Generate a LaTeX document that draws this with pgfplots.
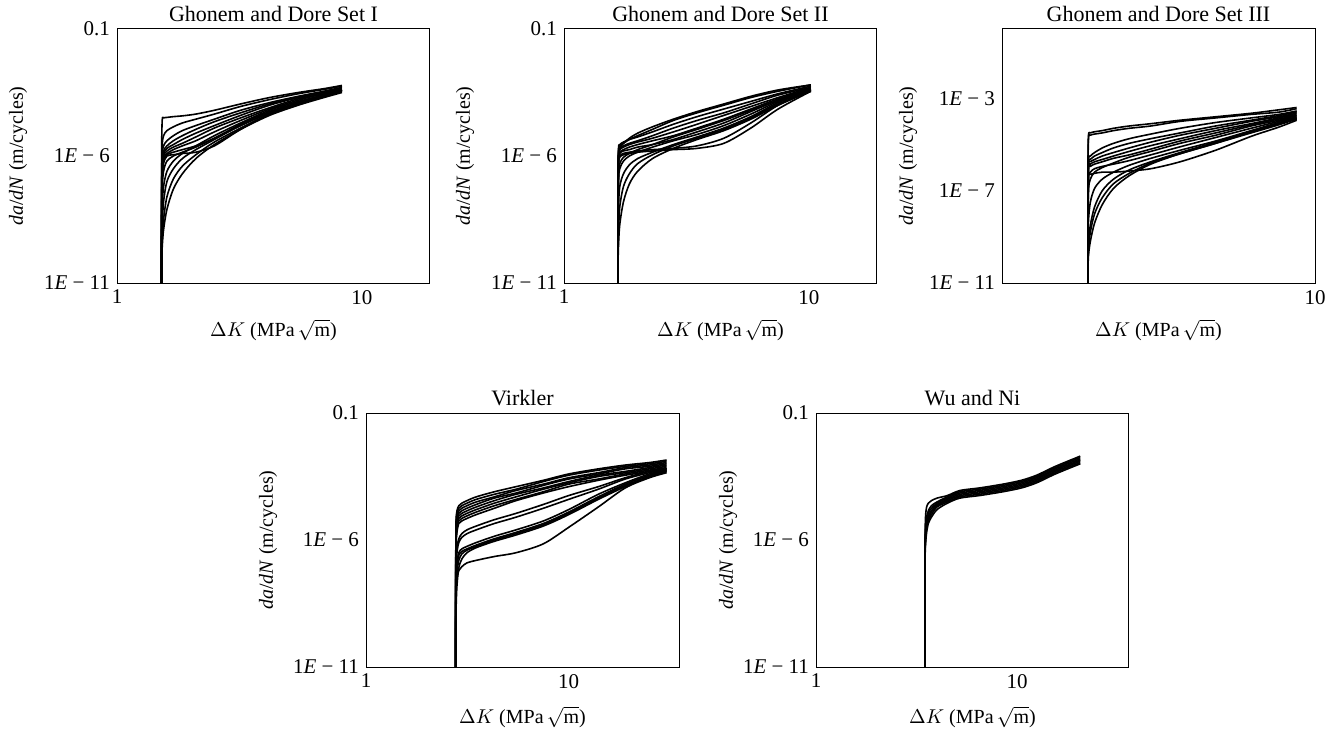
\documentclass[border=0pt]{standalone}
\usepackage{fontspec}
\setmainfont{Liberation Serif}
\usepackage{pgfplots}
\pgfplotsset{compat=1.18}
\pgfplotsset{
 panel/.style={
  scale only axis, width=156.5pt, height=127pt,
  ymin=1e-11, ymax=0.1, xmin=1,
  ytick={1e-11,1e-6,0.1},
  yticklabels={1\textit{E} − 11, 1\textit{E} − 6, 0.1},
  xtick={1,10}, xticklabels={1,10},
  major tick length=0pt, minor tick length=0pt,
  xminorticks=false, yminorticks=false,
  tick label style={font=\fontsize{10.5}{12}\selectfont},
  label style={font=\fontsize{11}{13}\selectfont},
  title style={font=\fontsize{11}{13}\selectfont, yshift=-6pt},
  every axis x label/.style={at={(axis description cs:0.5,0)}, yshift=-23.5pt, anchor=center},
  every axis y label/.style={at={(axis description cs:0,0.5)}, xshift=-49.5pt, rotate=90, anchor=center},
  xlabel={$\Delta K$ (MPa\,$\sqrt{\mathrm{m}}$)},
  ylabel={\textit{da}/\textit{dN} (m/cycles)},
  axis line style={line width=0.5pt},
 },
 cv/.style={black, line width=0.8pt, no marks, line join=round, smooth, tension=0.5},
}
\begin{document}
\begin{tikzpicture}
\path[use as bounding box] (0,0) rectangle (670.5pt,367.5pt);

% ---------------- Panel 1 ----------------
\begin{loglogaxis}[panel, at={(58.5pt,226pt)}, anchor=south west, xmax=19,
  title={Ghonem and Dore Set I}]
\addplot[cv] coordinates {(1.52,1e-11)(1.522,1e-6)(1.53,2.51e-5)(1.55,3.16e-5)(1.6,3.3e-5)(1.7,3.55e-5)(1.85,3.8e-5)(2.1,4.47e-5)(2.5,6.31e-5)(3.2,1.12e-4)(4.2,2e-4)(5.5,3.16e-4)(7,4.47e-4)(8.3,6e-4)};
\addplot[cv] coordinates {(1.52,1e-11)(1.522,1e-7)(1.53,2.51e-6)(1.55,6.31e-6)(1.6,1e-5)(1.7,1.41e-5)(1.85,2e-5)(2.1,2.82e-5)(2.5,4.47e-5)(3.2,8.91e-5)(4.2,1.66e-4)(5.5,2.82e-4)(7,4.17e-4)(8.3,5.62e-4)};
\addplot[cv] coordinates {(1.52,1e-11)(1.522,3.16e-8)(1.53,1e-6)(1.55,2.51e-6)(1.6,3.98e-6)(1.7,6.31e-6)(1.85,1e-5)(2.1,1.58e-5)(2.5,2.82e-5)(3.2,6.31e-5)(4.2,1.26e-4)(5.5,2.24e-4)(7,3.55e-4)(8.3,5.01e-4)};
\addplot[cv] coordinates {(1.52,1e-11)(1.522,3.16e-8)(1.53,6.31e-7)(1.55,1.58e-6)(1.6,2.51e-6)(1.7,3.98e-6)(1.85,6.31e-6)(2.1,1.12e-5)(2.5,2.24e-5)(3.2,5.01e-5)(4.2,1.12e-4)(5.5,2e-4)(7,3.16e-4)(8.3,5.01e-4)};
\addplot[cv] coordinates {(1.52,1e-11)(1.522,1e-8)(1.53,5.01e-7)(1.55,1.26e-6)(1.6,2e-6)(1.7,2.82e-6)(1.85,4.47e-6)(2.1,7.94e-6)(2.5,1.58e-5)(3.2,3.98e-5)(4.2,1e-4)(5.5,2e-4)(7,3.16e-4)(8.3,4.47e-4)};
\addplot[cv] coordinates {(1.52,1e-11)(1.522,1e-8)(1.53,3.16e-7)(1.55,1e-6)(1.6,1.58e-6)(1.7,2.24e-6)(1.85,3.16e-6)(2.1,5.62e-6)(2.5,1.26e-5)(3.2,3.16e-5)(4.2,7.94e-5)(5.5,1.78e-4)(7,2.82e-4)(8.3,4.47e-4)};
\addplot[cv] coordinates {(1.52,1e-11)(1.522,3.16e-9)(1.53,2.51e-7)(1.55,7.94e-7)(1.6,1.26e-6)(1.7,1.78e-6)(1.85,2.51e-6)(2.1,3.98e-6)(2.5,8.91e-6)(3.2,2.51e-5)(4.2,7.08e-5)(5.5,1.58e-4)(7,2.82e-4)(8.3,3.98e-4)};
\addplot[cv] coordinates {(1.52,1e-11)(1.522,3.16e-9)(1.53,1.58e-7)(1.55,6.31e-7)(1.6,1.12e-6)(1.7,1.41e-6)(1.85,1.78e-6)(2.1,2.51e-6)(2.5,5.01e-6)(3.2,1.78e-5)(4.2,5.62e-5)(5.5,1.26e-4)(7,2.51e-4)(8.3,3.98e-4)};
\addplot[cv] coordinates {(1.52,1e-11)(1.522,1.58e-9)(1.53,1e-7)(1.55,5.01e-7)(1.6,1e-6)(1.7,1.12e-6)(1.85,1.26e-6)(2.1,1.41e-6)(2.5,2.51e-6)(3.2,1.12e-5)(4.2,4.47e-5)(5.5,1.12e-4)(7,2.24e-4)(8.3,3.55e-4)};
\addplot[cv] coordinates {(1.52,1e-11)(1.522,1e-9)(1.53,5.01e-8)(1.55,2.51e-7)(1.6,6.31e-7)(1.7,1e-6)(1.85,1.41e-6)(2.1,2.24e-6)(2.5,5.01e-6)(3.2,1.58e-5)(4.2,5.01e-5)(5.5,1.26e-4)(7,2.51e-4)(8.3,3.55e-4)};
\addplot[cv] coordinates {(1.52,1e-11)(1.522,3.16e-10)(1.53,1e-8)(1.55,6.31e-8)(1.6,2.51e-7)(1.7,6.31e-7)(1.85,1.26e-6)(2.1,2.51e-6)(2.5,6.31e-6)(3.2,2e-5)(4.2,6.31e-5)(5.5,1.41e-4)(7,2.51e-4)(8.3,3.98e-4)};
\addplot[cv] coordinates {(1.52,1e-11)(1.522,1e-10)(1.53,1.58e-9)(1.55,1.58e-8)(1.6,1e-7)(1.7,3.16e-7)(1.85,7.94e-7)(2.1,1.78e-6)(2.5,4.47e-6)(3.2,1.58e-5)(4.2,5.01e-5)(5.5,1.26e-4)(7,2.24e-4)(8.3,3.98e-4)};
\addplot[cv] coordinates {(1.52,1e-11)(1.522,6.31e-11)(1.53,5.01e-10)(1.55,3.16e-9)(1.6,2.51e-8)(1.7,1.26e-7)(1.85,3.98e-7)(2.1,1.12e-6)(2.5,3.55e-6)(3.2,1.26e-5)(4.2,4.47e-5)(5.5,1.12e-4)(7,2.24e-4)(8.3,3.55e-4)};
\addplot[cv] coordinates {(1.52,1e-11)(1.522,3.98e-11)(1.53,2.51e-10)(1.55,1.26e-9)(1.6,7.94e-9)(1.7,5.01e-8)(1.85,2e-7)(2.1,7.94e-7)(2.5,2.82e-6)(3.2,1.12e-5)(4.2,3.98e-5)(5.5,1e-4)(7,2e-4)(8.3,3.16e-4)};
\end{loglogaxis}

% ---------------- Panel 2 ----------------
\begin{loglogaxis}[panel, at={(282pt,226pt)}, anchor=south west, xmax=19,
  title={Ghonem and Dore Set II}]
\addplot[cv] coordinates {(1.66,1e-11)(1.662,1e-7)(1.67,1.58e-6)(1.69,2.51e-6)(1.75,3.16e-6)(1.85,4.47e-6)(2,6.31e-6)(2.3,1.12e-5)(2.8,2.51e-5)(3.5,5.01e-5)(4.5,1e-4)(5.8,2e-4)(7.5,3.55e-4)(10.2,6.31e-4)};
\addplot[cv] coordinates {(1.66,1e-11)(1.662,1e-7)(1.67,2e-6)(1.69,2.82e-6)(1.75,3.55e-6)(1.85,4.47e-6)(2,5.62e-6)(2.3,8.91e-6)(2.8,1.78e-5)(3.5,3.55e-5)(4.5,7.08e-5)(5.8,1.41e-4)(7.5,2.82e-4)(10.2,5.62e-4)};
\addplot[cv] coordinates {(1.66,1e-11)(1.662,3.16e-8)(1.67,1.26e-6)(1.69,2e-6)(1.75,2.51e-6)(1.85,3.16e-6)(2,3.98e-6)(2.3,6.31e-6)(2.8,1.26e-5)(3.5,2.51e-5)(4.5,5.01e-5)(5.8,1.12e-4)(7.5,2.51e-4)(10.2,5.01e-4)};
\addplot[cv] coordinates {(1.66,1e-11)(1.662,3.16e-8)(1.67,1e-6)(1.69,1.78e-6)(1.75,2.24e-6)(1.85,2.82e-6)(2,3.55e-6)(2.3,5.01e-6)(2.8,8.91e-6)(3.5,1.78e-5)(4.5,3.98e-5)(5.8,8.91e-5)(7.5,2e-4)(10.2,5.01e-4)};
\addplot[cv] coordinates {(1.66,1e-11)(1.662,1e-8)(1.67,7.94e-7)(1.69,1.41e-6)(1.75,1.78e-6)(1.85,2.24e-6)(2,2.82e-6)(2.3,3.98e-6)(2.8,6.31e-6)(3.5,1.26e-5)(4.5,2.82e-5)(5.8,7.08e-5)(7.5,1.78e-4)(10.2,4.47e-4)};
\addplot[cv] coordinates {(1.66,1e-11)(1.662,1e-8)(1.67,6.31e-7)(1.69,1.26e-6)(1.75,1.58e-6)(1.85,1.78e-6)(2,2.24e-6)(2.3,2.82e-6)(2.8,4.47e-6)(3.5,8.91e-6)(4.5,2e-5)(5.8,5.62e-5)(7.5,1.58e-4)(10.2,4.47e-4)};
\addplot[cv] coordinates {(1.66,1e-11)(1.662,3.16e-9)(1.67,5.01e-7)(1.69,1e-6)(1.75,1.26e-6)(1.85,1.41e-6)(2,1.58e-6)(2.3,1.78e-6)(2.8,2e-6)(3.5,2.51e-6)(4.5,5.01e-6)(5.8,2e-5)(7.5,1e-4)(10.2,3.98e-4)};
\addplot[cv] coordinates {(1.66,1e-11)(1.662,3.16e-9)(1.67,3.98e-7)(1.69,8.91e-7)(1.75,1.12e-6)(1.85,1.26e-6)(2,1.41e-6)(2.3,1.58e-6)(2.8,1.78e-6)(3.5,2e-6)(4.5,3.16e-6)(5.8,1.26e-5)(7.5,7.08e-5)(10.2,3.55e-4)};
\addplot[cv] coordinates {(1.66,1e-11)(1.662,1e-9)(1.67,1e-7)(1.69,3.16e-7)(1.75,6.31e-7)(1.85,1e-6)(2,1.41e-6)(2.3,2.24e-6)(2.8,3.98e-6)(3.5,7.08e-6)(4.5,1.58e-5)(5.8,4.47e-5)(7.5,1.41e-4)(10.2,3.98e-4)};
\addplot[cv] coordinates {(1.66,1e-11)(1.662,3.16e-10)(1.67,1e-8)(1.69,6.31e-8)(1.75,2e-7)(1.85,4.47e-7)(2,7.94e-7)(2.3,1.41e-6)(2.8,2.82e-6)(3.5,5.62e-6)(4.5,1.26e-5)(5.8,3.55e-5)(7.5,1.26e-4)(10.2,3.98e-4)};
\addplot[cv] coordinates {(1.66,1e-11)(1.662,1e-10)(1.67,1e-9)(1.69,1e-8)(1.75,6.31e-8)(1.85,2e-7)(2,5.01e-7)(2.3,1.12e-6)(2.8,2.51e-6)(3.5,5.01e-6)(4.5,1.12e-5)(5.8,3.16e-5)(7.5,1.12e-4)(10.2,3.55e-4)};
\addplot[cv] coordinates {(1.66,1e-11)(1.662,5.01e-11)(1.67,3.16e-10)(1.69,2e-9)(1.75,1.58e-8)(1.85,7.94e-8)(2,2.51e-7)(2.3,7.94e-7)(2.8,2e-6)(3.5,4.47e-6)(4.5,1e-5)(5.8,2.82e-5)(7.5,1e-4)(10.2,3.55e-4)};
\addplot[cv] coordinates {(1.66,1e-11)(1.662,1e-8)(1.67,1e-6)(1.69,2e-6)(1.75,3.16e-6)(1.85,5.01e-6)(2,7.94e-6)(2.3,1.41e-5)(2.8,2.82e-5)(3.5,5.62e-5)(4.5,1.12e-4)(5.8,2.24e-4)(7.5,3.98e-4)(10.2,6.31e-4)};
\addplot[cv] coordinates {(1.66,1e-11)(1.662,1e-9)(1.67,1.58e-7)(1.69,5.01e-7)(1.75,8.91e-7)(1.85,1.26e-6)(2,1.78e-6)(2.3,2.82e-6)(2.8,5.62e-6)(3.5,1.12e-5)(4.5,2.51e-5)(5.8,6.31e-5)(7.5,1.58e-4)(10.2,4.47e-4)};
\end{loglogaxis}

% ---------------- Panel 3 ----------------
\begin{loglogaxis}[panel, at={(501pt,226pt)}, anchor=south west, xmin=2, xmax=10, ymax=1,
  ytick={1e-11,1e-7,1e-3}, yticklabels={1\textit{E} − 11, 1\textit{E} − 7, 1\textit{E} − 3},
  xtick={10}, xticklabels={10},
  every axis y label/.style={at={(axis description cs:0,0.5)}, xshift=-47pt, rotate=90, anchor=center},
  title={Ghonem and Dore Set III}]
\addplot[cv] coordinates {(3.11,1e-11)(3.112,1e-6)(3.12,2.51e-5)(3.15,3.16e-5)(3.22,3.55e-5)(3.35,3.98e-5)(3.55,5.01e-5)(3.85,6.31e-5)(4.3,7.94e-5)(5,1.12e-4)(6,1.58e-4)(7.2,2.24e-4)(8.3,3.16e-4)(9.1,3.98e-4)};
\addplot[cv] coordinates {(3.11,1e-11)(3.112,3.16e-7)(3.12,1.78e-5)(3.15,2.51e-5)(3.22,2.82e-5)(3.35,3.16e-5)(3.55,3.98e-5)(3.85,5.01e-5)(4.3,6.31e-5)(5,1e-4)(6,1.41e-4)(7.2,2e-4)(8.3,2.51e-4)(9.1,3.55e-4)};
\addplot[cv] coordinates {(3.11,1e-11)(3.112,3.16e-8)(3.12,2e-6)(3.15,3.16e-6)(3.22,4.47e-6)(3.35,7.08e-6)(3.55,1.12e-5)(3.85,1.78e-5)(4.3,2.82e-5)(5,5.01e-5)(6,8.91e-5)(7.2,1.41e-4)(8.3,2e-4)(9.1,2.82e-4)};
\addplot[cv] coordinates {(3.11,1e-11)(3.112,3.16e-8)(3.12,1.58e-6)(3.15,2.24e-6)(3.22,3.16e-6)(3.35,4.47e-6)(3.55,7.08e-6)(3.85,1.12e-5)(4.3,1.78e-5)(5,3.16e-5)(6,6.31e-5)(7.2,1.12e-4)(8.3,1.78e-4)(9.1,2.51e-4)};
\addplot[cv] coordinates {(3.11,1e-11)(3.112,1e-8)(3.12,1.26e-6)(3.15,1.78e-6)(3.22,2.24e-6)(3.35,3.16e-6)(3.55,4.47e-6)(3.85,7.08e-6)(4.3,1.26e-5)(5,2.51e-5)(6,5.01e-5)(7.2,1e-4)(8.3,1.58e-4)(9.1,2.24e-4)};
\addplot[cv] coordinates {(3.11,1e-11)(3.112,1e-8)(3.12,1e-6)(3.15,1.41e-6)(3.22,1.78e-6)(3.35,2.24e-6)(3.55,3.16e-6)(3.85,5.01e-6)(4.3,8.91e-6)(5,1.78e-5)(6,3.98e-5)(7.2,7.94e-5)(8.3,1.41e-4)(9.1,2e-4)};
\addplot[cv] coordinates {(3.11,1e-11)(3.112,3.16e-9)(3.12,7.94e-7)(3.15,1.12e-6)(3.22,1.41e-6)(3.35,1.78e-6)(3.55,2.51e-6)(3.85,3.55e-6)(4.3,6.31e-6)(5,1.41e-5)(6,3.16e-5)(7.2,7.08e-5)(8.3,1.26e-4)(9.1,1.78e-4)};
\addplot[cv] coordinates {(3.11,1e-11)(3.112,3.16e-9)(3.12,3.98e-7)(3.15,5.01e-7)(3.22,5.62e-7)(3.35,6.31e-7)(3.55,6.31e-7)(3.85,7.08e-7)(4.3,8.91e-7)(5,1.78e-6)(6,5.62e-6)(7.2,2.24e-5)(8.3,5.62e-5)(9.1,1.12e-4)};
\addplot[cv] coordinates {(3.11,1e-11)(3.112,1e-9)(3.12,3.16e-7)(3.15,6.31e-7)(3.22,8.91e-7)(3.35,1.12e-6)(3.55,1.41e-6)(3.85,2e-6)(4.3,3.55e-6)(5,7.94e-6)(6,2e-5)(7.2,5.01e-5)(8.3,1e-4)(9.1,1.58e-4)};
\addplot[cv] coordinates {(3.11,1e-11)(3.112,3.16e-10)(3.12,5.01e-9)(3.15,3.16e-8)(3.22,1.26e-7)(3.35,3.16e-7)(3.55,6.31e-7)(3.85,1.26e-6)(4.3,2.51e-6)(5,5.62e-6)(6,1.41e-5)(7.2,3.98e-5)(8.3,8.91e-5)(9.1,1.41e-4)};
\addplot[cv] coordinates {(3.11,1e-11)(3.112,1e-10)(3.12,6.31e-10)(3.15,3.16e-9)(3.22,2e-8)(3.35,1e-7)(3.55,3.16e-7)(3.85,7.94e-7)(4.3,1.78e-6)(5,4.47e-6)(6,1.26e-5)(7.2,3.55e-5)(8.3,7.94e-5)(9.1,1.26e-4)};
\addplot[cv] coordinates {(3.11,1e-11)(3.112,3.98e-11)(3.12,1.58e-10)(3.15,6.31e-10)(3.22,3.98e-9)(3.35,2.51e-8)(3.55,1.26e-7)(3.85,4.47e-7)(4.3,1.41e-6)(5,3.98e-6)(6,1.12e-5)(7.2,3.16e-5)(8.3,7.08e-5)(9.1,1.26e-4)};
\addplot[cv] coordinates {(3.11,1e-11)(3.112,6.31e-11)(3.12,3.16e-10)(3.15,1.58e-9)(3.22,1e-8)(3.35,5.01e-8)(3.55,2e-7)(3.85,5.62e-7)(4.3,1.58e-6)(5,3.98e-6)(6,1.12e-5)(7.2,3.55e-5)(8.3,7.94e-5)(9.1,1.41e-4)};
\addplot[cv] coordinates {(3.11,1e-11)(3.112,1.58e-9)(3.12,1e-7)(3.15,3.16e-7)(3.22,6.31e-7)(3.35,1e-6)(3.55,1.58e-6)(3.85,2.82e-6)(4.3,5.01e-6)(5,1.12e-5)(6,2.51e-5)(7.2,6.31e-5)(8.3,1.12e-4)(9.1,1.78e-4)};
\end{loglogaxis}

% ---------------- Panel 4 ----------------
\begin{loglogaxis}[panel, at={(183pt,34pt)}, anchor=south west, xmax=35,
  every axis x label/.style={at={(axis description cs:0.5,0)}, yshift=-25pt, anchor=center},
  every axis y label/.style={at={(axis description cs:0,0.5)}, xshift=-49pt, rotate=90, anchor=center},
  title={Virkler}]
\addplot[cv] coordinates {(2.77,1e-11)(2.772,1e-7)(2.78,5.01e-6)(2.81,1.41e-5)(2.87,2.24e-5)(2.97,2.82e-5)(3.15,3.55e-5)(3.5,5.01e-5)(4.3,7.94e-5)(5.5,1.26e-4)(7.5,2.24e-4)(10,3.98e-4)(14,6.31e-4)(19,8.91e-4)(25,1.12e-3)(30.4,1.41e-3)};
\addplot[cv] coordinates {(2.77,1e-11)(2.772,5.01e-8)(2.78,3.55e-6)(2.81,1.12e-5)(2.87,1.78e-5)(2.97,2.24e-5)(3.15,2.82e-5)(3.5,3.98e-5)(4.3,6.31e-5)(5.5,1e-4)(7.5,2e-4)(10,3.55e-4)(14,5.62e-4)(19,7.94e-4)(25,1e-3)(30.4,1.26e-3)};
\addplot[cv] coordinates {(2.77,1e-11)(2.772,2.51e-8)(2.78,2.51e-6)(2.81,7.94e-6)(2.87,1.41e-5)(2.97,1.78e-5)(3.15,2.24e-5)(3.5,3.16e-5)(4.3,5.01e-5)(5.5,8.91e-5)(7.5,1.58e-4)(10,2.82e-4)(14,4.47e-4)(19,7.08e-4)(25,8.91e-4)(30.4,1.12e-3)};
\addplot[cv] coordinates {(2.77,1e-11)(2.772,1.26e-8)(2.78,1.78e-6)(2.81,6.31e-6)(2.87,1.12e-5)(2.97,1.41e-5)(3.15,1.78e-5)(3.5,2.51e-5)(4.3,4.47e-5)(5.5,7.08e-5)(7.5,1.41e-4)(10,2.51e-4)(14,3.98e-4)(19,6.31e-4)(25,7.94e-4)(30.4,1e-3)};
\addplot[cv] coordinates {(2.77,1e-11)(2.772,6.31e-9)(2.78,1.26e-6)(2.81,5.01e-6)(2.87,8.91e-6)(2.97,1.12e-5)(3.15,1.41e-5)(3.5,2e-5)(4.3,3.55e-5)(5.5,6.31e-5)(7.5,1.12e-4)(10,2e-4)(14,3.55e-4)(19,5.01e-4)(25,7.08e-4)(30.4,8.91e-4)};
\addplot[cv] coordinates {(2.77,1e-11)(2.772,3.16e-9)(2.78,8.91e-7)(2.81,3.55e-6)(2.87,7.08e-6)(2.97,8.91e-6)(3.15,1.12e-5)(3.5,1.58e-5)(4.3,2.82e-5)(5.5,5.01e-5)(7.5,1e-4)(10,1.78e-4)(14,3.16e-4)(19,4.47e-4)(25,6.31e-4)(30.4,7.94e-4)};
\addplot[cv] coordinates {(2.77,1e-11)(2.772,1.58e-9)(2.78,6.31e-7)(2.81,2.82e-6)(2.87,5.62e-6)(2.97,7.08e-6)(3.15,8.91e-6)(3.5,1.26e-5)(4.3,2.24e-5)(5.5,3.98e-5)(7.5,7.94e-5)(10,1.58e-4)(14,2.51e-4)(19,3.98e-4)(25,5.62e-4)(30.4,7.08e-4)};
\addplot[cv] coordinates {(2.77,1e-11)(2.772,7.94e-10)(2.78,4.47e-7)(2.81,2e-6)(2.87,4.47e-6)(2.97,5.62e-6)(3.15,7.08e-6)(3.5,1e-5)(4.3,1.78e-5)(5.5,3.55e-5)(7.5,7.08e-5)(10,1.26e-4)(14,2.24e-4)(19,3.55e-4)(25,5.01e-4)(30.4,6.31e-4)};
\addplot[cv] coordinates {(2.77,1e-11)(2.772,1e-9)(2.78,1e-7)(2.81,5.01e-7)(2.87,1.12e-6)(2.97,1.78e-6)(3.15,2.51e-6)(3.5,3.55e-6)(4.3,6.31e-6)(5.5,1.12e-5)(7.5,2.51e-5)(10,5.62e-5)(14,1.26e-4)(19,2.82e-4)(25,5.01e-4)(30.4,6.31e-4)};
\addplot[cv] coordinates {(2.77,1e-11)(2.772,5.01e-10)(2.78,6.31e-8)(2.81,3.16e-7)(2.87,7.94e-7)(2.97,1.26e-6)(3.15,1.78e-6)(3.5,2.51e-6)(4.3,4.47e-6)(5.5,7.94e-6)(7.5,1.78e-5)(10,3.98e-5)(14,1e-4)(19,2.51e-4)(25,4.47e-4)(30.4,6.31e-4)};
\addplot[cv] coordinates {(2.77,1e-11)(2.772,3.16e-10)(2.78,2.51e-8)(2.81,1.26e-7)(2.87,3.16e-7)(2.97,4.47e-7)(3.15,5.62e-7)(3.5,7.94e-7)(4.3,1.41e-6)(5.5,2.51e-6)(7.5,5.62e-6)(10,1.58e-5)(14,6.31e-5)(19,1.78e-4)(25,3.98e-4)(30.4,5.62e-4)};
\addplot[cv] coordinates {(2.77,1e-11)(2.772,2e-10)(2.78,1.58e-8)(2.81,1e-7)(2.87,2.51e-7)(2.97,3.55e-7)(3.15,4.47e-7)(3.5,6.31e-7)(4.3,1.12e-6)(5.5,2e-6)(7.5,4.47e-6)(10,1.26e-5)(14,5.01e-5)(19,1.58e-4)(25,3.55e-4)(30.4,5.62e-4)};
\addplot[cv] coordinates {(2.77,1e-11)(2.772,1.26e-10)(2.78,6.31e-9)(2.81,5.01e-8)(2.87,1.58e-7)(2.97,2.82e-7)(3.15,3.98e-7)(3.5,5.62e-7)(4.3,1e-6)(5.5,1.78e-6)(7.5,3.98e-6)(10,1.12e-5)(14,4.47e-5)(19,1.41e-4)(25,3.16e-4)(30.4,5.01e-4)};
\addplot[cv] coordinates {(2.77,1e-11)(2.772,6.31e-11)(2.78,1.58e-9)(2.81,1.58e-8)(2.87,7.94e-8)(2.97,1.78e-7)(3.15,3.16e-7)(3.5,5.01e-7)(4.3,8.91e-7)(5.5,1.58e-6)(7.5,3.55e-6)(10,1e-5)(14,3.98e-5)(19,1.26e-4)(25,3.16e-4)(30.4,5.01e-4)};
\addplot[cv] coordinates {(2.77,1e-11)(2.772,3.16e-10)(2.78,1e-8)(2.81,3.16e-8)(2.87,6.31e-8)(2.97,8.91e-8)(3.15,1.26e-7)(3.5,1.58e-7)(4.3,2.24e-7)(5.5,3.16e-7)(7.5,7.08e-7)(10,3.16e-6)(14,2e-5)(19,1.12e-4)(25,2.82e-4)(30.4,4.47e-4)};
\end{loglogaxis}

% ---------------- Panel 5 ----------------
\begin{loglogaxis}[panel, at={(408pt,34pt)}, anchor=south west, xmax=36,
  every axis x label/.style={at={(axis description cs:0.5,0)}, yshift=-25pt, anchor=center},
  every axis y label/.style={at={(axis description cs:0,0.5)}, xshift=-44pt, rotate=90, anchor=center},
  title={Wu and Ni}]
\addplot[cv] coordinates {(3.48,1e-11)(3.482,1e-7)(3.49,2.51e-6)(3.51,1e-5)(3.55,2e-5)(3.62,2.82e-5)(3.75,3.55e-5)(4,4.47e-5)(4.5,5.62e-5)(5.2,8.91e-5)(6.5,1.12e-4)(8.5,1.58e-4)(10.5,2.24e-4)(12.5,3.55e-4)(15.5,7.94e-4)(20.6,2e-3)};
\addplot[cv] coordinates {(3.48,1e-11)(3.482,3.16e-8)(3.49,1e-6)(3.51,3.16e-6)(3.55,7.94e-6)(3.62,1.41e-5)(3.75,2.24e-5)(4,3.16e-5)(4.5,5.01e-5)(5.2,7.94e-5)(6.5,1e-4)(8.5,1.41e-4)(10.5,2e-4)(12.5,3.16e-4)(15.5,7.08e-4)(20.6,1.78e-3)};
\addplot[cv] coordinates {(3.48,1e-11)(3.482,3.16e-8)(3.49,7.94e-7)(3.51,2.51e-6)(3.55,6.31e-6)(3.62,1.12e-5)(3.75,1.78e-5)(4,2.82e-5)(4.5,4.47e-5)(5.2,7.08e-5)(6.5,8.91e-5)(8.5,1.26e-4)(10.5,1.78e-4)(12.5,2.82e-4)(15.5,6.31e-4)(20.6,1.58e-3)};
\addplot[cv] coordinates {(3.48,1e-11)(3.482,1e-8)(3.49,6.31e-7)(3.51,2e-6)(3.55,5.01e-6)(3.62,8.91e-6)(3.75,1.41e-5)(4,2.51e-5)(4.5,3.98e-5)(5.2,6.31e-5)(6.5,7.94e-5)(8.5,1.12e-4)(10.5,1.58e-4)(12.5,2.51e-4)(15.5,5.62e-4)(20.6,1.41e-3)};
\addplot[cv] coordinates {(3.48,1e-11)(3.482,1e-8)(3.49,5.01e-7)(3.51,1.58e-6)(3.55,3.98e-6)(3.62,7.08e-6)(3.75,1.26e-5)(4,2.24e-5)(4.5,3.55e-5)(5.2,5.62e-5)(6.5,7.08e-5)(8.5,1e-4)(10.5,1.41e-4)(12.5,2.24e-4)(15.5,5.01e-4)(20.6,1.26e-3)};
\addplot[cv] coordinates {(3.48,1e-11)(3.482,3.16e-9)(3.49,3.98e-7)(3.51,1.26e-6)(3.55,3.16e-6)(3.62,5.62e-6)(3.75,1e-5)(4,2e-5)(4.5,3.16e-5)(5.2,5.01e-5)(6.5,6.31e-5)(8.5,8.91e-5)(10.5,1.26e-4)(12.5,2e-4)(15.5,4.47e-4)(20.6,1.12e-3)};
\addplot[cv] coordinates {(3.48,1e-11)(3.482,1e-9)(3.49,2.51e-7)(3.51,7.94e-7)(3.55,2e-6)(3.62,4.47e-6)(3.75,7.94e-6)(4,1.58e-5)(4.5,2.82e-5)(5.2,4.47e-5)(6.5,5.62e-5)(8.5,7.94e-5)(10.5,1.12e-4)(12.5,1.78e-4)(15.5,3.98e-4)(20.6,1e-3)};
\end{loglogaxis}
\end{tikzpicture}
\end{document}
